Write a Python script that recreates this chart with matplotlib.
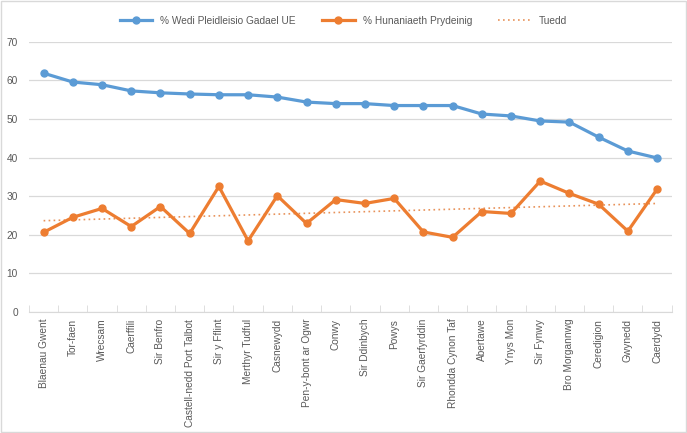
import numpy as np
import matplotlib
matplotlib.use("Agg")
import matplotlib.pyplot as plt
from matplotlib.ticker import FixedLocator

areas = ["Blaenau Gwent", "Tor-faen", "Wrecsam", "Caerffili", "Sir Benfro",
         "Castell-nedd Port Talbot", "Sir y Fflint", "Merthyr Tudful", "Casnewydd",
         "Pen-y-bont ar Ogwr", "Conwy", "Sir Ddinbych", "Powys", "Sir Gaerfyrddin",
         "Rhondda Cynon Taf", "Abertawe", "Ynys Mon", "Sir Fynwy", "Bro Morgannwg",
         "Ceredigion", "Gwynedd", "Caerdydd"]
leave_pct = [61.9, 59.6, 58.9, 57.3, 56.8, 56.5, 56.3, 56.3, 55.7, 54.4, 54.0,
             54.0, 53.5, 53.5, 53.5, 51.3, 50.8, 49.5, 49.2, 45.3, 41.7, 39.9]
british_pct = [20.6, 24.5, 26.8, 22.1, 27.3, 20.3, 32.5, 18.4, 30.1, 22.9, 29.1,
               28.1, 29.4, 20.7, 19.3, 26.0, 25.5, 33.9, 30.7, 27.9, 20.9, 31.8]

blue = "#5B9BD5"
orange = "#ED7D31"
grey = "#595959"

plt.rcParams["font.family"] = ["Liberation Sans", "DejaVu Sans"]

fig = plt.figure(figsize=(6.87, 4.33), dpi=100)
ax = fig.add_axes([0.0422, 0.2801, 0.9355, 0.623])

x = np.arange(len(areas))
ax.plot(x, leave_pct, color=blue, lw=2.3, marker="o", ms=5,
        label="% Wedi Pleidleisio Gadael UE", zorder=3)
ax.plot(x, british_pct, color=orange, lw=2.3, marker="o", ms=5,
        label="% Hunaniaeth Prydeinig", zorder=3)

# Excel style linear trendline of the identity series
k, b = np.polyfit(x, british_pct, 1)
ax.plot(x, k * x + b, color="#E8925A", lw=1.2, ls=(0, (1, 2)),
        label="Tuedd", zorder=2)

ax.set_xlim(-0.5, len(areas) - 0.5)
ax.set_ylim(0, 70)
ax.set_yticks(range(0, 71, 10))
ax.grid(axis="y", color="#D9D9D9", lw=0.9)
ax.set_axisbelow(True)
for s in ["top", "right", "left"]:
    ax.spines[s].set_visible(False)
ax.spines["bottom"].set_color("#D9D9D9")

ax.set_xticks(x)
ax.set_xticklabels(areas, rotation=90, fontsize=7.3, color=grey)
ax.xaxis.set_minor_locator(FixedLocator(np.arange(-0.5, len(areas), 1)))
ax.tick_params(axis="x", which="major", length=0, pad=5)
ax.tick_params(axis="x", which="minor", length=5, direction="in", color="#D9D9D9")
ax.tick_params(axis="y", length=0, labelsize=7.3, labelcolor=grey, pad=8)

leg = fig.legend(loc="upper center", bbox_to_anchor=(0.5, 0.985), ncol=3,
                 frameon=False, fontsize=7.3, handlelength=3.2, columnspacing=2.6,
                 labelcolor=grey)

border = plt.Rectangle((0.002, 0.002), 0.996, 0.996, transform=fig.transFigure,
                       fill=False, ec="#D9D9D9", lw=1)
fig.patches.append(border)

fig.savefig("out.png", dpi=100)
